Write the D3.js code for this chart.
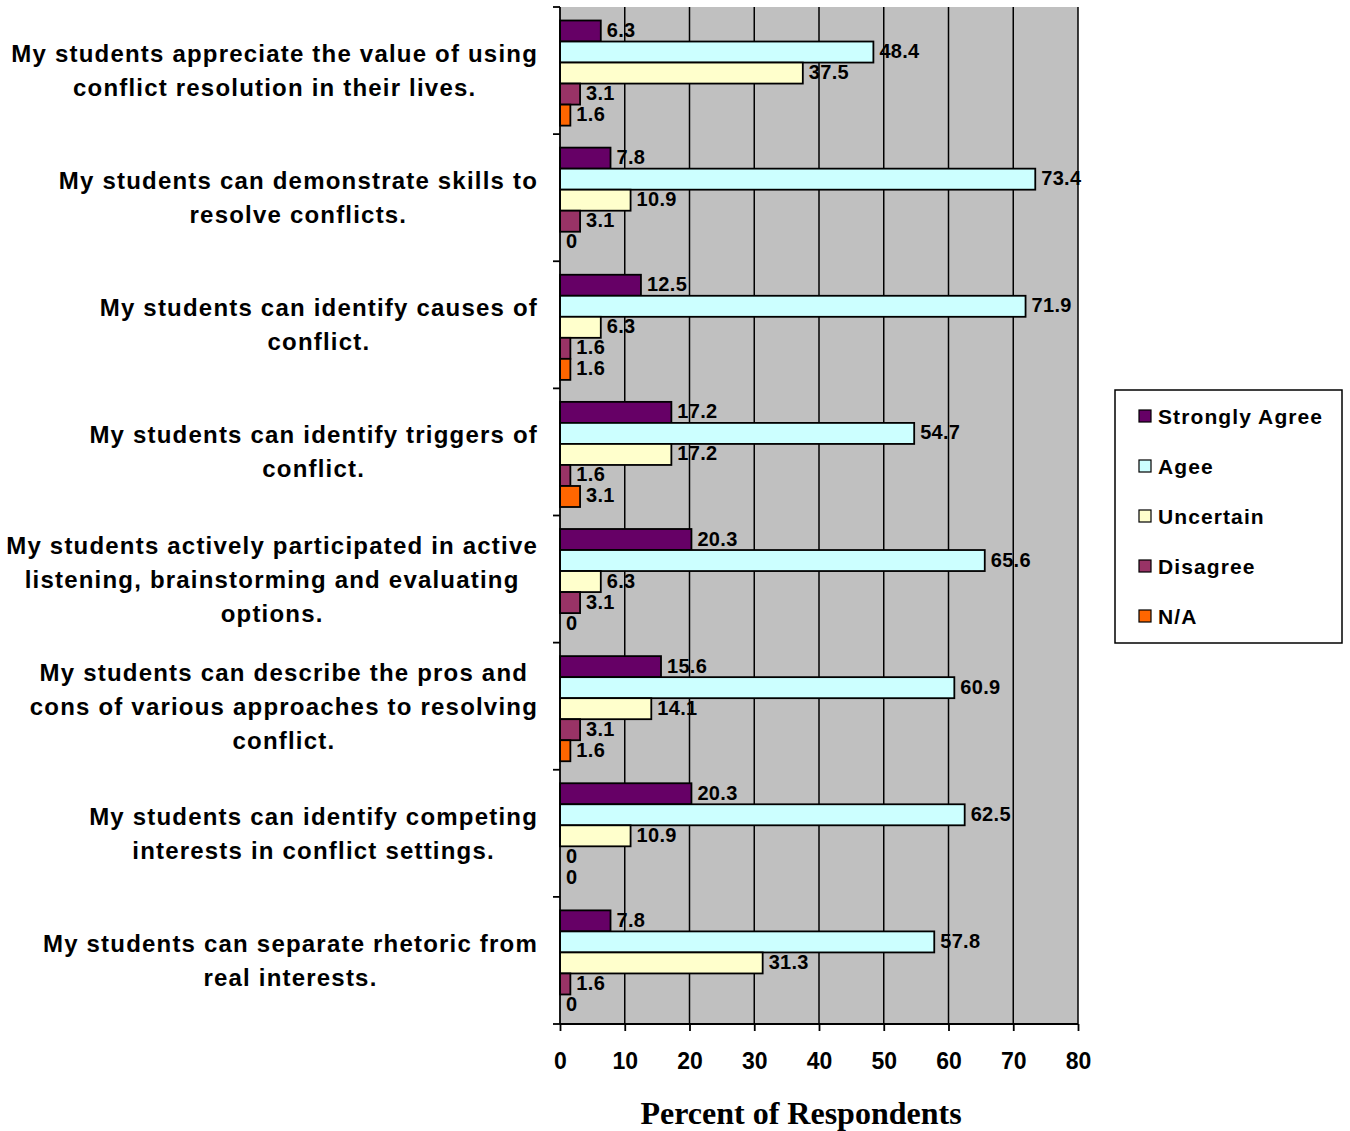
<!DOCTYPE html>
<html>
<head>
<meta charset="utf-8">
<script src="https://cdn.jsdelivr.net/npm/d3@7"></script>
<style>
  body { margin: 0; background: #fff; }
  text { font-family: "Liberation Sans", Arial, sans-serif; font-weight: bold; fill: #000; }
</style>
</head>
<body>
<svg id="chart" width="1350" height="1131"></svg>
<script>
const categories = [
  ["My students appreciate the value of using", "conflict resolution in their lives."],
  ["My students can demonstrate skills to", "resolve conflicts."],
  ["My students can identify causes of", "conflict."],
  ["My students can identify triggers of", "conflict."],
  ["My students actively participated in active", "listening, brainstorming and evaluating", "options."],
  ["My students can describe the pros and", "cons of various approaches to resolving", "conflict."],
  ["My students can identify competing", "interests in conflict settings."],
  ["My students can separate rhetoric from", "real interests."]
];
const seriesNames = ["Strongly Agree", "Agee", "Uncertain", "Disagree", "N/A"];
const seriesColors = ["#660066", "#CCFFFF", "#FFFFCC", "#993366", "#FF6600"];
const stronglyAgree = [6.3, 7.8, 12.5, 17.2, 20.3, 15.6, 20.3, 7.8];
const agree        = [48.4, 73.4, 71.9, 54.7, 65.6, 60.9, 62.5, 57.8];
const uncertain    = [37.5, 10.9, 6.3, 17.2, 6.3, 14.1, 10.9, 31.3];
const disagree     = [3.1, 3.1, 1.6, 1.6, 3.1, 3.1, 0, 1.6];
const na           = [1.6, 0, 1.6, 3.1, 0, 1.6, 0, 0];
const xTicks = [0, 10, 20, 30, 40, 50, 60, 70, 80];
const xTitle = "Percent of Respondents";

const seriesValues = [stronglyAgree, agree, uncertain, disagree, na];

const svg = d3.select("#chart");
const pL = 560, pR = 1078, pT = 7, pB = 1024;

const x = d3.scaleLinear().domain([0, 80]).range([pL, pR]);
const y = d3.scaleBand().domain(d3.range(categories.length)).range([pT, pB]).padding(0);
const step = y.step();
const inner = d3.scaleBand().domain(d3.range(seriesNames.length)).range([13.5, step - 8.5]).padding(0);

// background
svg.append("rect").attr("x", pL).attr("y", pT).attr("width", pR - pL).attr("height", pB - pT)
  .attr("fill", "#C0C0C0");

// gridlines
svg.append("g").selectAll("line").data(xTicks.filter(d => d > 0)).join("line")
  .attr("x1", d => x(d)).attr("x2", d => x(d)).attr("y1", pT).attr("y2", pB)
  .attr("stroke", "#000").attr("stroke-width", 1.5);

// bars
const groups = svg.append("g").selectAll("g").data(categories).join("g")
  .attr("transform", (d, i) => `translate(0,${y(i)})`);

groups.each(function(c, ci) {
  const g = d3.select(this);
  seriesValues.forEach((vals, si) => {
    const v = vals[ci];
    if (v > 0) {
      g.append("rect")
        .attr("x", x(0)).attr("y", inner(si))
        .attr("width", x(v) - x(0)).attr("height", inner.bandwidth())
        .attr("fill", seriesColors[si]).attr("stroke", "#000").attr("stroke-width", 1.8);
    }
    g.append("text")
      .attr("x", x(v) + 6).attr("y", inner(si) + inner.bandwidth() / 2 - 1)
      .attr("dominant-baseline", "central")
      .style("font-size", "20px").style("letter-spacing", "0.3px")
      .text(v);
  });
});

// left axis
svg.append("line").attr("x1", pL).attr("x2", pL).attr("y1", pT).attr("y2", pB)
  .attr("stroke", "#000").attr("stroke-width", 1.8);
svg.append("g").selectAll("line").data(d3.range(categories.length + 1)).join("line")
  .attr("x1", pL - 7).attr("x2", pL)
  .attr("y1", d => pT + d * step).attr("y2", d => pT + d * step)
  .attr("stroke", "#000").attr("stroke-width", 1.8);

// bottom axis
const xAxis = d3.axisBottom(x).tickValues(xTicks).tickSize(7).tickPadding(22).tickFormat(d3.format("d"));
const ax = svg.append("g").attr("transform", `translate(0,${pB})`).call(xAxis);
ax.select(".domain").attr("stroke", "#000").attr("stroke-width", 1.8).attr("d", `M${pL},0H${pR}`);
ax.selectAll(".tick line").attr("stroke", "#000").attr("stroke-width", 1.8);
ax.selectAll(".tick text").style("font-size", "23px").style("font-family", '"Liberation Sans", Arial, sans-serif')
  .style("font-weight", "bold").attr("fill", "#000");

// x title
svg.append("text").attr("x", 801).attr("y", 1124).attr("text-anchor", "middle")
  .style("font-family", '"Liberation Serif", "Times New Roman", serif').style("font-size", "32px")
  .text(xTitle);

// category labels
const labelRight = 538;
categories.forEach((lines, i) => {
  const g = svg.append("g");
  const lh = 34;
  const cy = y(i) + step / 2;
  const texts = lines.map((l, li) => g.append("text")
    .attr("y", cy + (li - (lines.length - 1) / 2) * lh)
    .attr("dominant-baseline", "central")
    .attr("text-anchor", "middle")
    .style("font-size", "24px").style("letter-spacing", "1.2px")
    .text(l));
  const maxW = d3.max(texts, t => t.node().getComputedTextLength());
  texts.forEach(t => t.attr("x", labelRight - maxW / 2));
});

// legend
const lg = svg.append("g");
lg.append("rect").attr("x", 1115).attr("y", 390).attr("width", 227).attr("height", 253)
  .attr("fill", "#fff").attr("stroke", "#000").attr("stroke-width", 1.5);
seriesNames.forEach((n, i) => {
  const yy = 416 + i * 50;
  lg.append("rect").attr("x", 1139).attr("y", yy - 6).attr("width", 12).attr("height", 12)
    .attr("fill", seriesColors[i]).attr("stroke", "#000").attr("stroke-width", 1.2);
  lg.append("text").attr("x", 1158).attr("y", yy).attr("dominant-baseline", "central")
    .style("font-size", "21px").style("letter-spacing", "1.1px").text(n);
});
</script>
</body>
</html>
